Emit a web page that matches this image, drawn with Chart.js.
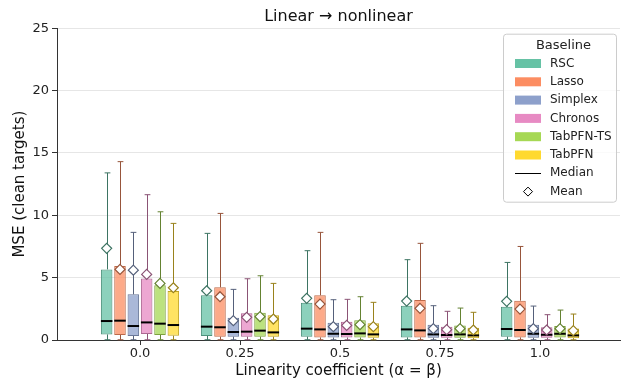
<!DOCTYPE html>
<html>
<head>
<meta charset="utf-8">
<script src="https://cdn.jsdelivr.net/npm/chart.js@4"></script>
<style>
  body { margin: 0; background: #fff; }
</style>
</head>
<body>
<canvas id="myChart" width="622" height="381"></canvas>
<script>
// categories and series
const categorias = ['0.0', '0.25', '0.5', '0.75', '1.0']
const baselines = ['RSC', 'Lasso', 'Simplex', 'Chronos', 'TabPFN-TS', 'TabPFN']
const colores = ['#66c2a5', '#fc8d62', '#8da0cb', '#e78ac3', '#a6d854', '#ffd92f']
const yTicks = [0, 5, 10, 15, 20, 25]

// box stats, one row per baseline, one value per category
const whiskerLo = [
  [0.02, 0.02, 0.02, 0.02, 0.02],
  [0.02, 0.02, 0.02, 0.02, 0.02],
  [0.02, 0.02, 0.02, 0.02, 0.02],
  [0.02, 0.02, 0.02, 0.02, 0.02],
  [0.02, 0.02, 0.02, 0.02, 0.02],
  [0.02, 0.02, 0.02, 0.02, 0.02]
]
const q1 = [
  [0.45, 0.32, 0.27, 0.21, 0.27],
  [0.40, 0.27, 0.21, 0.21, 0.21],
  [0.32, 0.27, 0.20, 0.18, 0.18],
  [0.48, 0.27, 0.20, 0.18, 0.18],
  [0.40, 0.27, 0.20, 0.18, 0.20],
  [0.35, 0.27, 0.18, 0.15, 0.15]
]
const medianas = [
  [1.52, 1.07, 0.91, 0.85, 0.88],
  [1.55, 1.02, 0.85, 0.77, 0.80],
  [1.12, 0.64, 0.50, 0.45, 0.50],
  [1.41, 0.67, 0.48, 0.40, 0.42],
  [1.31, 0.75, 0.53, 0.45, 0.50],
  [1.20, 0.61, 0.45, 0.37, 0.37]
]
const q3 = [
  [5.66, 3.58, 2.99, 2.75, 2.67],
  [5.93, 4.22, 3.58, 3.20, 3.15],
  [3.66, 1.79, 1.39, 1.23, 1.23],
  [4.94, 2.14, 1.47, 1.07, 1.02],
  [4.38, 2.19, 1.58, 1.17, 1.12],
  [3.93, 1.98, 1.34, 0.99, 0.93]
]
const whiskerHi = [
  [13.40, 8.55, 7.16, 6.44, 6.22],
  [14.30, 10.15, 8.63, 7.75, 7.50],
  [8.63, 4.06, 3.23, 2.75, 2.72],
  [11.65, 4.91, 3.26, 2.30, 2.03],
  [10.28, 5.15, 3.47, 2.56, 2.40],
  [9.35, 4.54, 3.02, 2.22, 2.08]
]
const medias = [
  [7.35, 3.95, 3.34, 3.12, 3.10],
  [5.66, 3.47, 2.88, 2.54, 2.48],
  [5.60, 1.55, 1.07, 0.91, 0.91],
  [5.26, 1.82, 1.17, 0.83, 0.80],
  [4.54, 1.87, 1.23, 0.91, 0.91],
  [4.19, 1.68, 1.07, 0.80, 0.75]
]

const fuente = 'DejaVu Sans'

const hexRgb = (hex) => [1, 3, 5].map(i => parseInt(hex.slice(i, i + 2), 16))
const oscuro = (hex, f = 0.6) => {
  const [r, g, b] = hexRgb(hex)
  return `rgb(${Math.round(r * f)},${Math.round(g * f)},${Math.round(b * f)})`
}
const alfa = (hex, a) => {
  const [r, g, b] = hexRgb(hex)
  return `rgba(${r},${g},${b},${a})`
}

// whiskers behind boxes, medians and means on top
const cajasPlugin = {
  id: 'cajas',
  beforeDatasetsDraw(chart) {
    const c = chart.ctx
    const y = chart.scales.y
    c.save()
    c.lineWidth = 1
    baselines.forEach((b, d) => {
      const meta = chart.getDatasetMeta(d)
      c.strokeStyle = oscuro(colores[d])
      meta.data.forEach((bar, i) => {
        const x = Math.round(bar.x) + 0.5
        const cap = bar.width * 0.25
        const yHi = y.getPixelForValue(whiskerHi[d][i])
        const yQ3 = y.getPixelForValue(q3[d][i])
        const yLo = y.getPixelForValue(whiskerLo[d][i])
        const yQ1 = y.getPixelForValue(q1[d][i])
        c.beginPath()
        c.moveTo(x, yQ3); c.lineTo(x, yHi)
        c.moveTo(x - cap, yHi); c.lineTo(x + cap, yHi)
        c.moveTo(x, yQ1); c.lineTo(x, yLo)
        c.moveTo(x - cap, yLo); c.lineTo(x + cap, yLo)
        c.stroke()
      })
    })
    c.restore()
  },
  afterDatasetsDraw(chart) {
    const c = chart.ctx
    const y = chart.scales.y
    c.save()
    baselines.forEach((b, d) => {
      const meta = chart.getDatasetMeta(d)
      meta.data.forEach((bar, i) => {
        const ym = y.getPixelForValue(medianas[d][i])
        c.strokeStyle = '#000'
        c.lineWidth = 2
        c.beginPath()
        c.moveTo(bar.x - bar.width / 2, ym)
        c.lineTo(bar.x + bar.width / 2, ym)
        c.stroke()
      })
    })
    baselines.forEach((b, d) => {
      const meta = chart.getDatasetMeta(d)
      meta.data.forEach((bar, i) => {
        const yMean = y.getPixelForValue(medias[d][i])
        const r = 5
        c.fillStyle = '#fff'
        c.strokeStyle = oscuro(colores[d])
        c.lineWidth = 1.2
        c.beginPath()
        c.moveTo(bar.x, yMean - r)
        c.lineTo(bar.x + r, yMean)
        c.lineTo(bar.x, yMean + r)
        c.lineTo(bar.x - r, yMean)
        c.closePath()
        c.fill()
        c.stroke()
      })
    })
    c.restore()
  }
}

// legend box in the upper right of the plot
const leyendaPlugin = {
  id: 'leyenda',
  afterDraw(chart) {
    const c = chart.ctx
    const area = chart.chartArea
    const w = 113, h = 168
    const x0 = area.right - 3.5 - w
    const y0 = area.top + 6
    c.save()
    c.fillStyle = 'rgba(255,255,255,0.8)'
    c.strokeStyle = '#cccccc'
    c.lineWidth = 1
    c.beginPath()
    c.roundRect(x0, y0, w, h, 3)
    c.fill()
    c.stroke()

    c.fillStyle = '#222'
    c.font = `13px "${fuente}"`
    c.textBaseline = 'middle'
    c.textAlign = 'center'
    c.fillText('Baseline', x0 + 60, y0 + 11)

    c.font = `12px "${fuente}"`
    c.textAlign = 'left'
    const fila = 18.3
    const px = x0 + 11.5
    const tx = x0 + 46.5
    let fy = y0 + 29.3
    baselines.forEach((b, d) => {
      c.fillStyle = colores[d]
      c.fillRect(px, fy - 4.5, 26, 9)
      c.fillStyle = '#222'
      c.fillText(b, tx, fy)
      fy += fila
    })
    c.strokeStyle = '#000'
    c.lineWidth = 1
    c.beginPath()
    c.moveTo(px, Math.round(fy) + 0.5)
    c.lineTo(px + 26, Math.round(fy) + 0.5)
    c.stroke()
    c.fillText('Median', tx, fy)
    fy += fila
    const cx = px + 13, r = 4.5
    c.fillStyle = '#fff'
    c.beginPath()
    c.moveTo(cx, fy - r); c.lineTo(cx + r, fy); c.lineTo(cx, fy + r); c.lineTo(cx - r, fy)
    c.closePath()
    c.fill()
    c.stroke()
    c.fillStyle = '#222'
    c.fillText('Mean', tx, fy)
    c.restore()
  }
}

const datasets = baselines.map((b, d) => ({
  label: b,
  data: categorias.map((cat, i) => ({ x: i, y: [q1[d][i], q3[d][i]] })),
  backgroundColor: alfa(colores[d], 0.75),
  borderColor: oscuro(colores[d], 0.75),
  borderWidth: 1,
  borderSkipped: false,
  categoryPercentage: 0.8,
  barPercentage: 0.865
}))

const ctx = document.getElementById('myChart')
new Chart(ctx, {
  type: 'bar',
  data: { datasets: datasets },
  options: {
    responsive: false,
    animation: false,
    layout: { padding: { left: 0, right: 2, top: 0, bottom: 0 } },
    plugins: {
      legend: { display: false },
      tooltip: { enabled: false },
      title: {
        display: true,
        text: 'Linear → nonlinear',
        fullSize: false,
        color: '#111',
        font: { family: fuente, size: 16, weight: 'normal' },
        padding: { top: 7, bottom: 2 }
      }
    },
    scales: {
      x: {
        type: 'linear',
        offset: false,
        min: -0.83,
        max: 4.8,
        afterBuildTicks: (scale) => { scale.ticks = categorias.map((c, i) => ({ value: i })) },
        afterFit: (scale) => { scale.height = 41 },
        ticks: {
          callback: (v) => categorias[v],
          color: '#222',
          font: { family: fuente, size: 13 },
          padding: 1,
          maxRotation: 0
        },
        grid: { offset: false, drawOnChartArea: false, drawTicks: true, tickLength: 5, tickColor: '#333' },
        border: { color: '#333', width: 1 },
        title: {
          display: true,
          text: 'Linearity coefficient (α = β)',
          color: '#111',
          font: { family: fuente, size: 15 },
          padding: { top: 0, bottom: 1 }
        }
      },
      y: {
        min: 0,
        max: 25,
        afterBuildTicks: (scale) => { scale.ticks = yTicks.map(v => ({ value: v })) },
        afterFit: (scale) => { scale.width = 57 },
        ticks: {
          color: '#222',
          font: { family: fuente, size: 13 },
          padding: 3
        },
        grid: { color: '#e6e6e6', tickLength: 5, tickColor: '#333' },
        border: { color: '#333', width: 1 },
        title: {
          display: true,
          text: 'MSE (clean targets)',
          color: '#111',
          font: { family: fuente, size: 15 },
          padding: { top: 11, bottom: 0 }
        }
      }
    }
  },
  plugins: [cajasPlugin, leyendaPlugin]
})
</script>
</body>
</html>
